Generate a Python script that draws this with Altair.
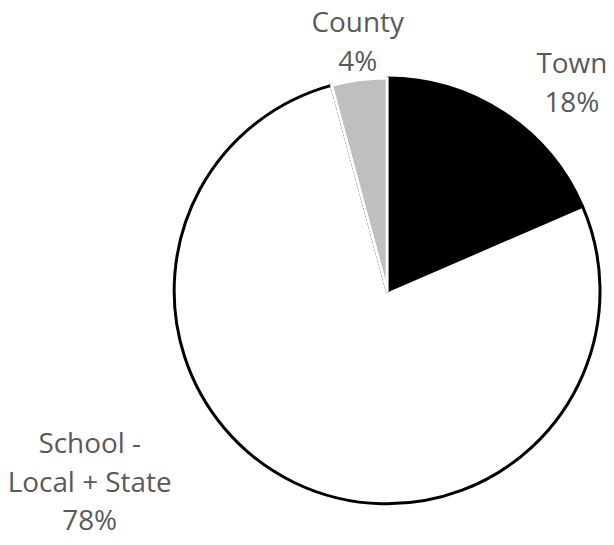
import altair as alt
import pandas as pd

categories = ["Town", "School - Local + State", "County"]
values = [18.5, 77.3, 4.2]
labels = ["Town\n18%", "School -\nLocal + State\n78%", "County\n4%"]
fills = ["#000000", "#FFFFFF", "#BFBFBF"]
strokes = ["#000000", "#000000", "#FFFFFF"]
order = [1, 2, 3]

df = pd.DataFrame({
    "category": categories,
    "value": values,
    "label": labels,
    "order": order,
})

total = sum(values)

arc = alt.Chart(df).mark_arc(radius=214, strokeWidth=3, strokeJoin="round").encode(
    theta=alt.Theta("value:Q", stack=True),
    order=alt.Order("order:Q"),
    color=alt.Color("category:N", scale=alt.Scale(domain=categories, range=fills), legend=None),
    stroke=alt.Stroke("category:N", scale=alt.Scale(domain=categories, range=strokes), legend=None),
)

base_text = alt.Chart(df).transform_window(
    cum="sum(value)", sort=[alt.SortField("order")], frame=[None, 0]
).transform_calculate(
    mid="datum.cum - datum.value / 2"
)

def label_layer(cat, radius, dx, dy):
    return base_text.transform_filter(
        alt.datum.category == cat
    ).mark_text(
        radius=radius, dx=dx, dy=dy, font="Open Sans", fontSize=28,
        color="#595959", lineBreak="\n", lineHeight=39,
        align="center", baseline="middle",
    ).encode(
        theta=alt.Theta("mid:Q", stack=None,
                        scale=alt.Scale(domain=[0, total], range=[0, 6.283185307])),
        text="label:N",
    )

chart = alt.layer(
    arc,
    label_layer("Town", 249, 49, -19),
    label_layer("County", 255, 4, -15),
    label_layer("School - Local + State", 214, -206, -38),
).resolve_scale(theta="independent").properties(
    width=440, height=440,
    padding={"left": 161, "top": 63, "right": 0, "bottom": 30},
    autosize="none",
    background="#FFFFFF",
).configure_view(strokeWidth=0)

chart.save("out.html", embed_options={"renderer": "svg", "actions": False})
